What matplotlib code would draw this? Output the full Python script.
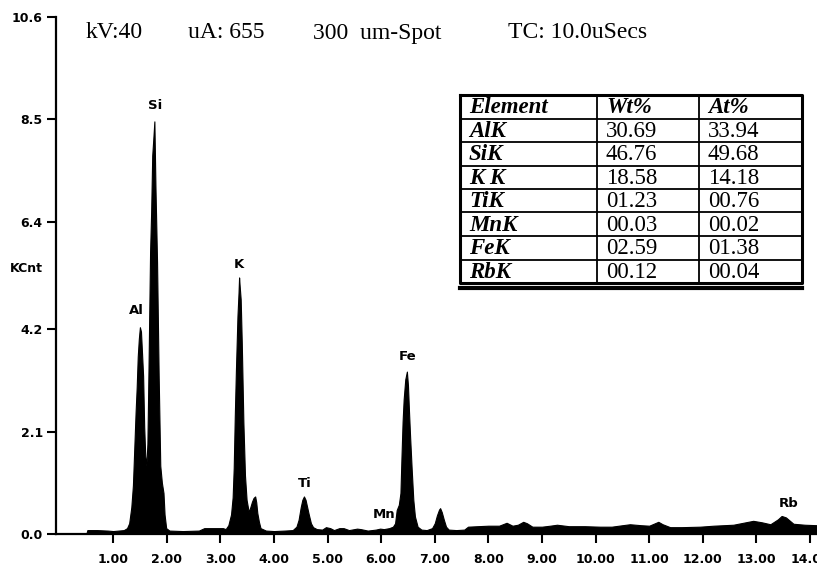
import matplotlib.pyplot as plt
from matplotlib.lines import Line2D

# spectrum (keV, KCnt)
energy = [0.50, 0.52, 0.70, 0.90, 1.00, 1.10, 1.20, 1.26, 1.30, 1.34, 1.37, 1.39, 1.42, 1.44,
          1.46, 1.48, 1.50, 1.52, 1.54, 1.56, 1.58, 1.60, 1.62, 1.64, 1.66, 1.69, 1.71, 1.73,
          1.75, 1.77, 1.79, 1.82, 1.85, 1.88, 1.91, 1.94, 1.96, 1.99, 2.05, 2.30, 2.60, 2.70,
          2.90, 3.05, 3.10, 3.15, 3.20, 3.23, 3.25, 3.27, 3.29, 3.32, 3.34, 3.35, 3.36, 3.38,
          3.40, 3.43, 3.46, 3.49, 3.53, 3.56, 3.59, 3.62, 3.65, 3.67, 3.69, 3.72, 3.75, 3.85,
          4.00, 4.20, 4.35, 4.42, 4.46, 4.50, 4.53, 4.56, 4.59, 4.62, 4.65, 4.69, 4.73, 4.80,
          4.90, 4.97, 5.05, 5.12, 5.22, 5.30, 5.40, 5.55, 5.62, 5.75, 5.90, 5.98, 6.05, 6.15,
          6.22, 6.26, 6.29, 6.33, 6.36, 6.38, 6.40, 6.42, 6.45, 6.48, 6.50, 6.52, 6.54, 6.57,
          6.60, 6.63, 6.68, 6.75, 6.85, 6.95, 7.00, 7.04, 7.08, 7.10, 7.13, 7.17, 7.21, 7.26,
          7.40, 7.55, 7.62, 7.80, 8.00, 8.20, 8.34, 8.45, 8.55, 8.65, 8.72, 8.82, 9.00, 9.15,
          9.28, 9.50, 9.80, 10.08, 10.30, 10.50, 10.64, 10.85, 11.00, 11.17, 11.25, 11.39, 11.60, 11.95,
          12.20, 12.57, 12.80, 12.94, 13.10, 13.26, 13.40, 13.47, 13.55, 13.69, 13.90, 14.13]
kcnt = [0.00, 0.08, 0.08, 0.07, 0.06, 0.07, 0.08, 0.12, 0.22, 0.55, 1.00, 1.60, 2.50, 3.00,
        3.64, 4.00, 4.24, 4.15, 3.70, 3.24, 2.20, 1.60, 1.40, 1.85, 3.34, 5.78, 6.60, 7.76,
        8.10, 8.46, 7.12, 5.57, 3.24, 1.40, 1.05, 0.84, 0.40, 0.12, 0.07, 0.06, 0.07, 0.12,
        0.12, 0.12, 0.10, 0.18, 0.40, 0.75, 1.35, 2.41, 3.31, 4.47, 4.95, 5.26, 5.10, 4.81,
        3.93, 2.30, 1.20, 0.70, 0.45, 0.55, 0.66, 0.74, 0.77, 0.65, 0.43, 0.25, 0.12, 0.07,
        0.06, 0.07, 0.08, 0.15, 0.29, 0.55, 0.70, 0.77, 0.70, 0.55, 0.40, 0.22, 0.14, 0.10,
        0.09, 0.14, 0.12, 0.08, 0.12, 0.12, 0.08, 0.11, 0.10, 0.07, 0.09, 0.11, 0.10, 0.12,
        0.15, 0.22, 0.49, 0.60, 0.84, 1.60, 2.30, 2.76, 3.17, 3.33, 3.05, 2.50, 2.00, 1.32,
        0.70, 0.36, 0.15, 0.09, 0.08, 0.12, 0.22, 0.38, 0.50, 0.53, 0.45, 0.29, 0.15, 0.09,
        0.08, 0.09, 0.15, 0.16, 0.17, 0.17, 0.23, 0.17, 0.19, 0.25, 0.22, 0.15, 0.15, 0.17,
        0.19, 0.16, 0.16, 0.15, 0.15, 0.18, 0.20, 0.18, 0.17, 0.25, 0.20, 0.14, 0.14, 0.15,
        0.17, 0.19, 0.24, 0.27, 0.24, 0.20, 0.30, 0.37, 0.34, 0.21, 0.19, 0.18]

peak_names = ['Al', 'Si', 'K', 'Ti', 'Mn', 'Fe', 'Rb']
peak_e = [1.44, 1.78, 3.35, 4.58, 6.06, 6.50, 13.6]
peak_y = [4.59, 8.78, 5.52, 1.04, 0.41, 3.63, 0.63]

y_ticks = [0.0, 2.1, 4.2, 6.4, 8.5, 10.6]
x_ticks = [1, 2, 3, 4, 5, 6, 7, 8, 9, 10, 11, 12, 13, 14]

header = ['kV:40', 'uA: 655', '300  um-Spot', 'TC: 10.0uSecs']
header_x = [86, 188, 313, 508]

col_names = ['Element', 'Wt%', 'At%']
elements = ['AlK', 'SiK', 'K K', 'TiK', 'MnK', 'FeK', 'RbK']
wt_pct = ['30.69', '46.76', '18.58', '01.23', '00.03', '02.59', '00.12']
at_pct = ['33.94', '49.68', '14.18', '00.76', '00.02', '01.38', '00.04']

W, H = 817, 570


def px(x, y):
    return x / W, 1 - y / H


fig = plt.figure(figsize=(W / 100, H / 100), dpi=100)
ax = fig.add_axes([56 / W, 1 - 534 / H, (W - 56) / W, (534 - 17) / H])

ax.fill_between(energy, kcnt, 0, color='black', lw=0.8, edgecolor='black', zorder=3)
ax.set_xlim(-0.065, 14.13)
ax.set_ylim(0, 10.6)

for sp in ['top', 'right']:
    ax.spines[sp].set_visible(False)
for sp in ['left', 'bottom']:
    ax.spines[sp].set_linewidth(1.6)

ax.set_yticks(y_ticks)
ax.set_yticklabels(['%.1f' % v for v in y_ticks])
ax.set_xticks(x_ticks)
ax.set_xticklabels(['%.2f' % v for v in x_ticks])
ax.tick_params(axis='y', length=6.5, width=1.5, pad=3)
ax.tick_params(axis='x', length=6.5, width=1.5, pad=7)
for lab in ax.get_xticklabels() + ax.get_yticklabels():
    lab.set_fontfamily('DejaVu Sans')
    lab.set_fontweight('bold')
    lab.set_fontsize(9)

fig.text(*px(43, 268), 'KCnt', ha='right', va='center', fontsize=9, fontweight='bold',
         family='DejaVu Sans')

for name, e, y in zip(peak_names, peak_e, peak_y):
    ax.text(e, y, name, ha='center', va='center', fontsize=9.5, fontweight='bold',
            family='DejaVu Sans', zorder=2 if name == 'Mn' else 4)

for txt, x in zip(header, header_x):
    fig.text(*px(x, 33), txt, ha='left', va='center', fontsize=17, family='Liberation Serif')

# composition table
col_x = [460, 597, 699, 802]
top, row_h = 95, 23.5
n_rows = len(elements) + 1
bottom = top + row_h * n_rows

for i in range(1, n_rows):
    y = top + i * row_h
    fig.add_artist(Line2D([px(460, 0)[0], px(802, 0)[0]], [px(0, y)[1]] * 2, color='black', lw=1.3))
for x in col_x[1:-1]:
    fig.add_artist(Line2D([px(x, 0)[0]] * 2, [px(0, top)[1], px(0, bottom)[1]], color='black', lw=1.3))
xs = [460, 802, 802, 460, 460]
ys = [top, top, bottom, bottom, top]
fig.add_artist(Line2D([px(x, 0)[0] for x in xs], [px(0, y)[1] for y in ys], color='black', lw=2.2))
fig.add_artist(Line2D([px(460, 0)[0], px(802, 0)[0]], [px(0, bottom + 5)[1]] * 2, color='black', lw=3))

rows = [col_names] + [[e, w, a] for e, w, a in zip(elements, wt_pct, at_pct)]
for r, row in enumerate(rows):
    yc = top + (r + 0.5) * row_h + 1
    for c, cell in enumerate(row):
        bold = r == 0 or c == 0
        fig.text(*px(col_x[c] + 9, yc), cell, ha='left', va='center', fontsize=16.5,
                 family='Liberation Serif', fontweight='bold' if bold else 'normal',
                 fontstyle='italic' if bold else 'normal')

fig.savefig('out.png', dpi=100)
